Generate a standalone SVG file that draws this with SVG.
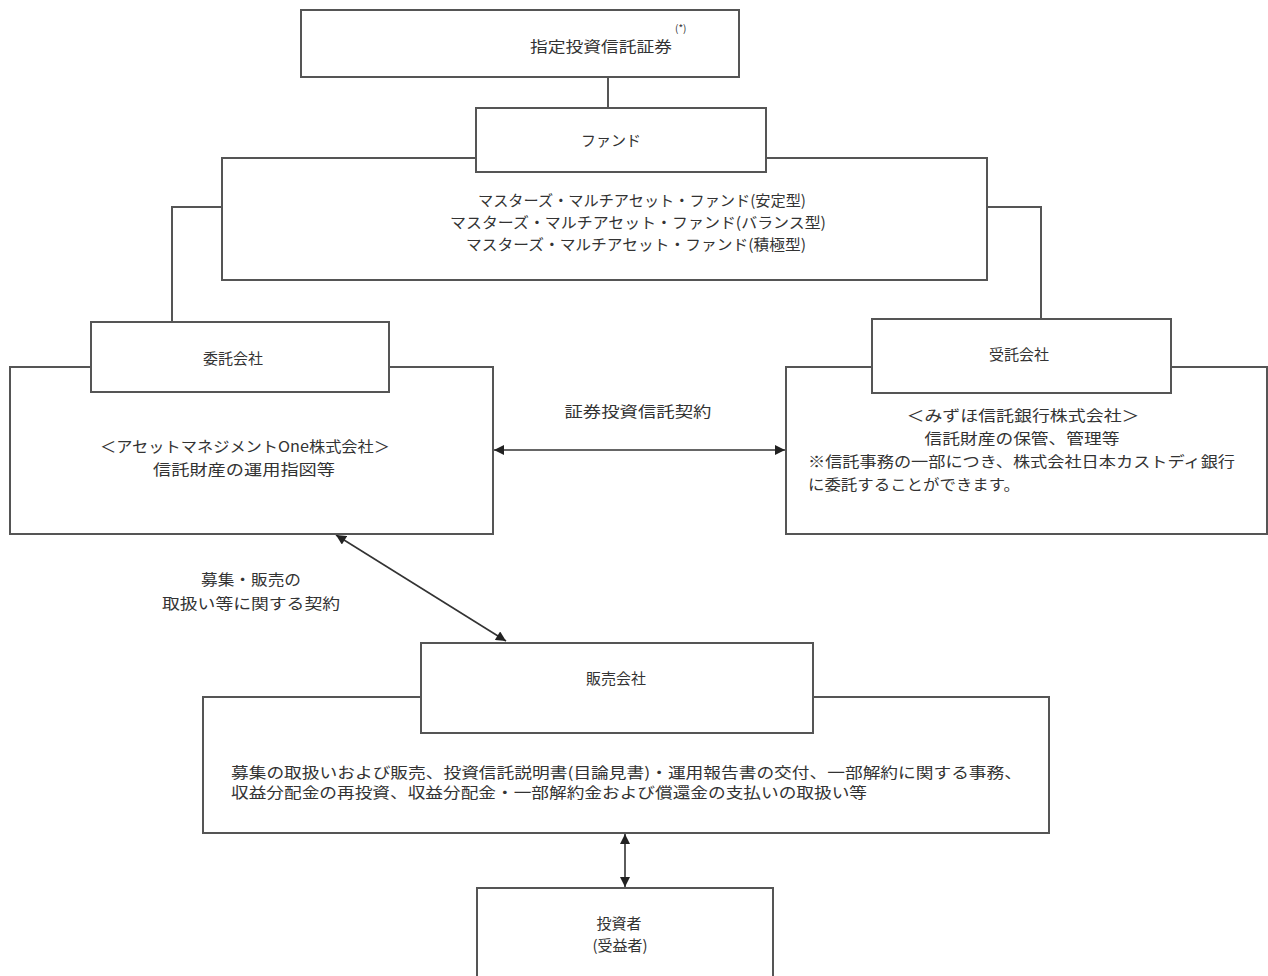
<svg xmlns="http://www.w3.org/2000/svg" width="1268" height="976" viewBox="0 0 1268 976">
<style>
.box{fill:#fff;stroke:#555;stroke-width:2}
.ln{fill:none;stroke:#555;stroke-width:2}
.ar{fill:none;stroke:#333;stroke-width:1.6;marker-start:url(#ah);marker-end:url(#ah)}
text{font-family:"Noto Sans CJK JP","Liberation Sans",sans-serif;font-size:15px;fill:#333;dominant-baseline:central}
.c{text-anchor:middle}
</style>
<defs>
<marker id="ah" viewBox="0 0 10 10" refX="10" refY="5" markerWidth="11" markerHeight="10" orient="auto-start-reverse" markerUnits="userSpaceOnUse">
<path d="M0,0 L10,5 L0,10 z" fill="#222"/>
</marker>
</defs>
<rect width="1268" height="976" fill="#fff"/>
<g id="connectors">
<path class="ln" d="M608,77 V108"/>
<path class="ln" d="M222,207 H172 V322"/>
<path class="ln" d="M987,207 H1041 V319"/>
<path class="ar" d="M494,450 H785"/>
<path class="ar" d="M336,535 L506,641"/>
<path class="ar" d="M625,834 V887"/>
</g>
<g id="node-top">
<rect class="box" x="301" y="10" width="438" height="67"/>
<text x="530" y="45" textLength="142" lengthAdjust="spacingAndGlyphs">指定投資信託証券</text>
<text x="675" y="27" style="font-size:10px">(*)</text>
</g>
<g id="node-fund">
<rect class="box" x="222" y="158" width="765" height="122"/>
<rect class="box" x="476" y="108" width="290" height="64"/>
<text x="611" y="139" class="c">ファンド</text>
<text x="642" y="199" class="c" textLength="328" lengthAdjust="spacingAndGlyphs">マスターズ・マルチアセット・ファンド(安定型)</text>
<text x="638" y="221" class="c" textLength="376" lengthAdjust="spacingAndGlyphs">マスターズ・マルチアセット・ファンド(バランス型)</text>
<text x="636" y="243" class="c" textLength="340" lengthAdjust="spacingAndGlyphs">マスターズ・マルチアセット・ファンド(積極型)</text>
</g>
<g id="node-itaku">
<rect class="box" x="10" y="367" width="483" height="167"/>
<rect class="box" x="91" y="322" width="298" height="70"/>
<text x="233" y="357" class="c">委託会社</text>
<text x="245" y="445" class="c" textLength="290" lengthAdjust="spacingAndGlyphs">＜アセットマネジメントOne株式会社＞</text>
<text x="244" y="468" class="c" textLength="182" lengthAdjust="spacingAndGlyphs">信託財産の運用指図等</text>
</g>
<g id="node-jutaku">
<rect class="box" x="786" y="367" width="481" height="167"/>
<rect class="box" x="872" y="319" width="299" height="74"/>
<text x="1019" y="353" class="c">受託会社</text>
<text x="1023" y="414" class="c" textLength="233" lengthAdjust="spacingAndGlyphs">＜みずほ信託銀行株式会社＞</text>
<text x="1022" y="437" class="c" textLength="195" lengthAdjust="spacingAndGlyphs">信託財産の保管、管理等</text>
<text x="808" y="460" textLength="427" lengthAdjust="spacingAndGlyphs">※信託事務の一部につき、株式会社日本カストディ銀行</text>
<text x="808" y="483" textLength="212" lengthAdjust="spacingAndGlyphs">に委託することができます。</text>
</g>
<g id="label-keiyaku">
<text x="638" y="410" class="c" textLength="147" lengthAdjust="spacingAndGlyphs">証券投資信託契約</text>
</g>
<g id="label-boshu">
<text x="251" y="578" class="c" textLength="100" lengthAdjust="spacingAndGlyphs">募集・販売の</text>
<text x="251" y="602" class="c" textLength="178" lengthAdjust="spacingAndGlyphs">取扱い等に関する契約</text>
</g>
<g id="node-hanbai">
<rect class="box" x="203" y="697" width="846" height="136"/>
<rect class="box" x="421" y="643" width="392" height="90"/>
<text x="616" y="677" class="c">販売会社</text>
<text x="231" y="771" textLength="791" lengthAdjust="spacingAndGlyphs">募集の取扱いおよび販売、投資信託説明書(目論見書)・運用報告書の交付、一部解約に関する事務、</text>
<text x="231" y="791" textLength="636" lengthAdjust="spacingAndGlyphs">収益分配金の再投資、収益分配金・一部解約金および償還金の支払いの取扱い等</text>
</g>
<g id="node-investor">
<rect class="box" x="477" y="888" width="296" height="100"/>
<text x="619" y="922" class="c">投資者</text>
<text x="620" y="944" class="c">(受益者)</text>
</g>
</svg>
